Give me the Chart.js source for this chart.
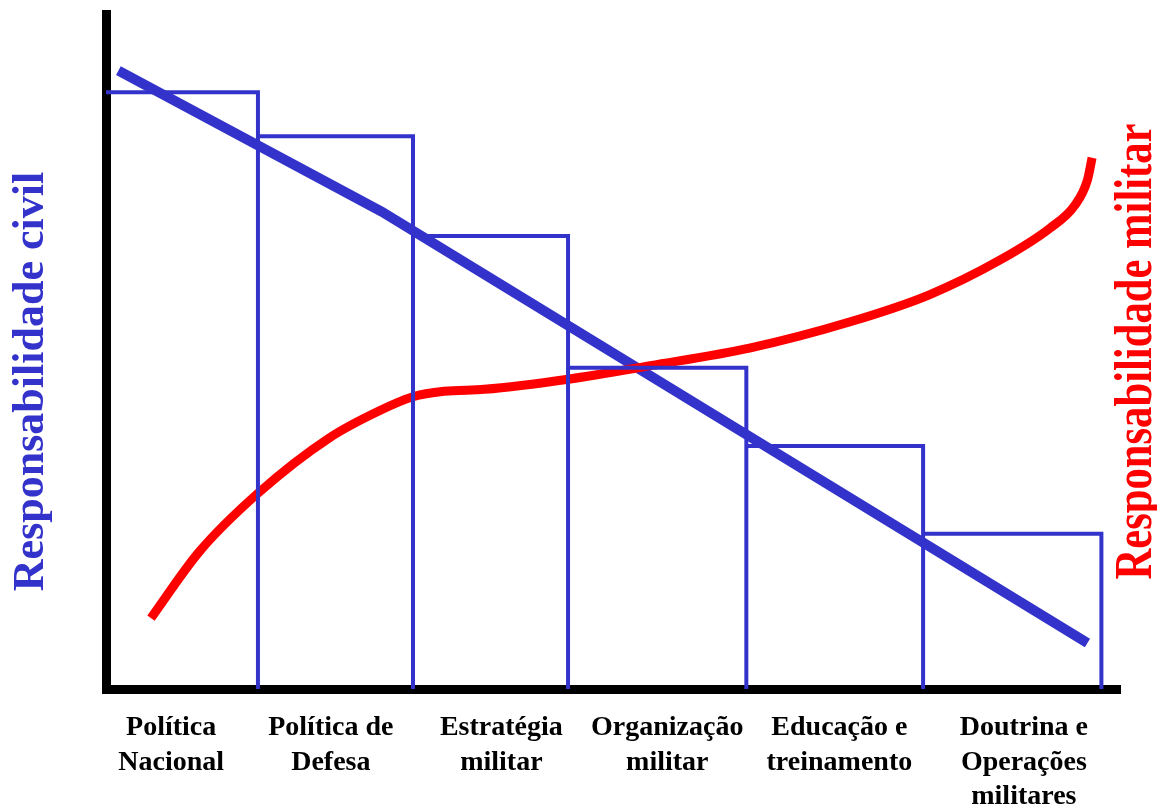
<!DOCTYPE html>
<html>
<head>
<meta charset="utf-8">
<script src="https://cdn.jsdelivr.net/npm/chart.js@4.4.1/dist/chart.umd.min.js"></script>
<style>
  html, body { margin: 0; padding: 0; background: #fff; }
  #wrap { width: 1157px; height: 808px; }
</style>
</head>
<body>
<div id="wrap"><canvas id="chart" width="1157" height="808"></canvas></div>
<script>
'use strict';
// 定数

// カテゴリ (x軸のラベル、複数行)
const CATEGORIES = [
  ['Política', 'Nacional'],
  ['Política de', 'Defesa'],
  ['Estratégia', 'militar'],
  ['Organização', 'militar'],
  ['Educação e', 'treinamento'],
  ['Doutrina e', 'Operações', 'militares'],
];
// ラベルの位置 (x軸の値)
const LABEL_POS = [0.42, 1.45, 2.55, 3.62, 4.73, 5.92];

// 階段の区切りと高さ
const STEP_EDGES = [0, 0.98, 1.98, 2.98, 4.13, 5.27, 6.42];
const STEP_HEIGHTS = [88.4, 81.9, 67.1, 47.6, 36.0, 23.0];

// 文民の責任 (青い直線)
const CIVIL_X = [0.08, 1.78, 6.33];
const CIVIL_Y = [91.6, 70.7, 6.8];

// 軍の責任 (赤い曲線)
const MILITAR_X = [0.29, 0.60, 0.98, 1.44, 1.77, 1.98, 2.18, 2.44, 2.98,
  3.51, 4.15, 4.80, 5.31, 5.77, 6.09, 6.25, 6.33, 6.36];
const MILITAR_Y = [10.5, 20.3, 29.0, 37.2, 41.3, 43.3, 44.1, 44.4, 45.9,
  47.9, 50.5, 54.4, 58.4, 63.6, 68.3, 71.7, 75.4, 78.7];

const X_MAX = 6.54;
const Y_MAX = 100;

const TITLE_CIVIL = 'Responsabilidade civil';
const TITLE_MILITAR = 'Responsabilidade militar';

const BLUE = '#3333CC';
const RED = '#FF0000';
const SERIF = "'Liberation Serif', 'Times New Roman', serif";

// 階段の点を作る
function buildSteps(edges, heights) {
  const points = [];
  for (let i = 0; i < heights.length; i++) {
    points.push({ x: edges[i], y: heights[i] });
    points.push({ x: edges[i + 1], y: heights[i] });
    points.push({ x: edges[i + 1], y: 0 });
  }
  return points;
}

function toPoints(xs, ys) {
  return xs.map((x, i) => ({ x, y: ys[i] }));
}

// 縦書きのタイトル (下から上へ)
function drawVerticalText(ctx, text, x, y, size, color, stretch) {
  ctx.save();
  ctx.translate(x, y);
  ctx.rotate(-Math.PI / 2);
  ctx.scale(stretch, 1);
  ctx.font = `bold ${size}px ${SERIF}`;
  ctx.fillStyle = color;
  ctx.textAlign = 'center';
  ctx.textBaseline = 'alphabetic';
  ctx.fillText(text, 0, 0);
  ctx.restore();
}

const axisTitles = {
  id: 'axisTitles',
  afterDraw(chart) {
    const { ctx, chartArea } = chart;
    const midY = (chartArea.top + chartArea.bottom) / 2;
    drawVerticalText(ctx, TITLE_CIVIL, chartArea.left - 63, midY + 30, 44, BLUE, 1);
    drawVerticalText(ctx, TITLE_MILITAR, chartArea.right + 31, midY, 52, RED, 0.82);
  },
};

const ctx = document.getElementById('chart');
new Chart(ctx, {
  type: 'line',
  data: {
    datasets: [
      {
        label: 'degraus',
        data: buildSteps(STEP_EDGES, STEP_HEIGHTS),
        borderColor: BLUE,
        borderWidth: 4,
        borderCapStyle: 'butt',
        borderJoinStyle: 'miter',
        pointRadius: 0,
        tension: 0,
        fill: false,
        order: 0,
      },
      {
        label: TITLE_MILITAR,
        data: toPoints(MILITAR_X, MILITAR_Y),
        borderColor: RED,
        borderWidth: 9,
        borderCapStyle: 'butt',
        pointRadius: 0,
        cubicInterpolationMode: 'monotone',
        fill: false,
        order: 1,
      },
      {
        label: TITLE_CIVIL,
        data: toPoints(CIVIL_X, CIVIL_Y),
        borderColor: BLUE,
        borderWidth: 10,
        borderCapStyle: 'butt',
        pointRadius: 0,
        tension: 0,
        fill: false,
        order: 2,
      },
    ],
  },
  options: {
    responsive: false,
    animation: false,
    devicePixelRatio: 1,
    layout: { padding: { left: 106, top: 14, right: 37, bottom: 0 } },
    plugins: {
      legend: { display: false },
      tooltip: { enabled: false },
    },
    scales: {
      x: {
        type: 'linear',
        min: 0,
        max: X_MAX,
        grid: { display: false },
        border: { display: true, color: '#000', width: 9 },
        afterBuildTicks: (scale) => {
          scale.ticks = LABEL_POS.map((v) => ({ value: v }));
        },
        afterFit: (scale) => {
          scale.height = 119;
        },
        ticks: {
          autoSkip: false,
          maxRotation: 0,
          minRotation: 0,
          padding: 14,
          color: '#000',
          font: { family: SERIF, size: 28, weight: 'bold', lineHeight: 1.23 },
          callback: (value, index) => CATEGORIES[index],
        },
      },
      y: {
        type: 'linear',
        min: 0,
        max: Y_MAX,
        grid: { display: false },
        border: { display: true, color: '#000', width: 9 },
        ticks: { display: false },
        afterFit: (scale) => {
          scale.width = 0;
        },
      },
    },
  },
  plugins: [axisTitles],
});
</script>
</body>
</html>
